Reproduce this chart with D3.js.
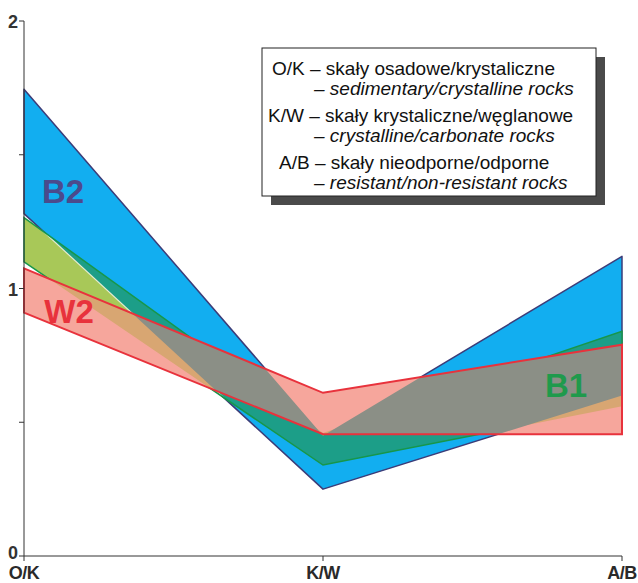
<!DOCTYPE html>
<html><head><meta charset="utf-8">
<script src="https://cdn.jsdelivr.net/npm/d3@7"></script>
<style>body{margin:0;background:#fff}svg{display:block}</style>
</head><body>
<script>
const categories = ["O/K", "K/W", "A/B"];
const b2Upper = [1.745, 0.45, 1.12];
const b2Lower = [1.28, 0.25, 0.60];
const b1Upper = [1.265, 0.46, 0.84];
const b1Lower = [1.10, 0.34, 0.56];
const w2Upper = [1.075, 0.61, 0.79];
const w2Lower = [0.91, 0.455, 0.455];
const yTicks = [0, 0.5, 1, 1.5, 2];
const yTickLabels = ["0", "", "1", "", "2"];
const legendLines = [
  {t: "O/K – skały osadowe/krystaliczne", it: false},
  {t: "– sedimentary/crystalline rocks", it: true},
  {t: "K/W – skały krystaliczne/węglanowe", it: false},
  {t: "– crystalline/carbonate rocks", it: true},
  {t: "A/B – skały nieodporne/odporne", it: false},
  {t: "– resistant/non-resistant rocks", it: true}
];

const W = 638, H = 583;
const svg = d3.select("body").append("svg").attr("width", W).attr("height", H);
const x = d3.scalePoint().domain(categories).range([24, 622]);
const y = d3.scaleLinear().domain([0, 2]).range([556, 21]);

function band(up, lo) {
  const pts = up.map((v, i) => [x(categories[i]), y(v)]);
  const pts2 = lo.map((v, i) => [x(categories[i]), y(v)]).reverse();
  return "M" + pts.concat(pts2).map(p => p.join(",")).join("L") + "Z";
}
function line(vals) {
  return d3.line()(vals.map((v, i) => [x(categories[i]), y(v)]));
}
const b2 = band(b2Upper, b2Lower), b1 = band(b1Upper, b1Lower), w2 = band(w2Upper, w2Lower);
const defs = svg.append("defs");
defs.append("clipPath").attr("id", "cB2").append("path").attr("d", b2);
defs.append("clipPath").attr("id", "cB1").append("path").attr("d", b1);

// blue B2
svg.append("path").attr("d", b2).attr("fill", "#12aef0").attr("stroke", "#3c3c78").attr("stroke-width", 1.5).attr("stroke-linejoin", "round");
// green B1
svg.append("path").attr("d", b1).attr("fill", "#a8c858");
svg.append("path").attr("d", b1).attr("fill", "#1c9e88").attr("clip-path", "url(#cB2)");
svg.append("path").attr("d", line(b2Lower)).attr("fill", "none").attr("stroke", "#e4ead0").attr("stroke-width", 1.2).attr("clip-path", "url(#cB1)");
svg.append("path").attr("d", b1).attr("fill", "none").attr("stroke", "#17964a").attr("stroke-width", 1.5);
// red W2
svg.append("path").attr("d", w2).attr("fill", "#f6a69c");
svg.append("path").attr("d", w2).attr("fill", "#d8a672").attr("clip-path", "url(#cB1)");
svg.append("path").attr("d", w2).attr("fill", "#8b8f86").attr("clip-path", "url(#cB2)");
svg.append("path").attr("d", w2).attr("fill", "none").attr("stroke", "#e8323c").attr("stroke-width", 2);

// axes
const ax = svg.append("g").attr("stroke", "#333").attr("stroke-width", 1);
ax.append("line").attr("x1", x("O/K")).attr("x2", x("O/K")).attr("y1", y(2)).attr("y2", y(0));
ax.append("line").attr("x1", x("O/K")).attr("x2", x("A/B")).attr("y1", y(0)).attr("y2", y(0));
yTicks.forEach(t => ax.append("line").attr("x1", x("O/K") - 5).attr("x2", x("O/K")).attr("y1", y(t)).attr("y2", y(t)));
categories.forEach(c => ax.append("line").attr("x1", x(c)).attr("x2", x(c)).attr("y1", y(0)).attr("y2", y(0) + 5));

const font = "Liberation Sans, Arial, sans-serif";
yTicks.forEach((t, i) => {
  if (!yTickLabels[i]) return;
  svg.append("text").attr("x", 18).attr("y", y(t) + (t === 0 ? 3 : 7)).attr("text-anchor", "end")
    .attr("font-family", font).attr("font-weight", "bold").attr("font-size", 18).attr("fill", "#333").text(yTickLabels[i]);
});
categories.forEach(c => {
  svg.append("text").attr("x", x(c)).attr("y", 579).attr("text-anchor", "middle")
    .attr("font-family", font).attr("font-weight", "bold").attr("font-size", 18).attr("letter-spacing", -0.5).attr("fill", "#2a2a2a").text(c);
});

// band labels
svg.append("text").attr("x", 63).attr("y", 203).attr("text-anchor", "middle").attr("font-family", font).attr("font-weight", "bold").attr("font-size", 33).attr("fill", "#4b4a8c").text("B2");
svg.append("text").attr("x", 69).attr("y", 323).attr("text-anchor", "middle").attr("font-family", font).attr("font-weight", "bold").attr("font-size", 33).attr("fill", "#e8323c").text("W2");
svg.append("text").attr("x", 566).attr("y", 397).attr("text-anchor", "middle").attr("font-family", font).attr("font-weight", "bold").attr("font-size", 33).attr("fill", "#1f9a4c").text("B1");

// legend
const lg = svg.append("g");
lg.append("rect").attr("x", 271).attr("y", 57).attr("width", 334).attr("height", 148).attr("fill", "#4a4a4a");
lg.append("rect").attr("x", 262).attr("y", 48).attr("width", 334).attr("height", 148).attr("fill", "#fff").attr("stroke", "#222").attr("stroke-width", 1);
const lx = [272, 314, 268, 314, 279, 314];
const ly = [75, 95, 122, 142, 169, 189];
legendLines.forEach((l, i) => {
  lg.append("text").attr("x", lx[i]).attr("y", ly[i]).attr("font-family", font).attr("font-size", 19)
    .attr("font-style", l.it ? "italic" : "normal").attr("fill", "#111").text(l.t);
});
</script>
</body></html>
